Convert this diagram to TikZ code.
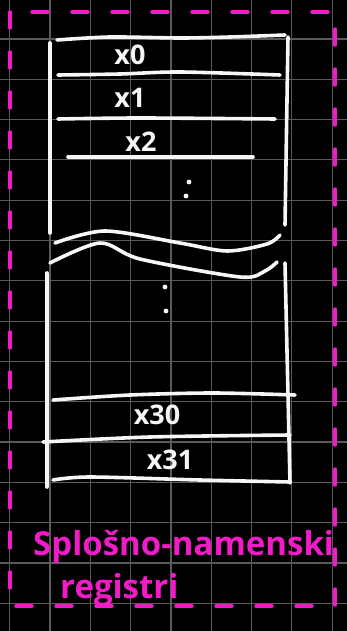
\documentclass[tikz,border=0pt]{standalone}
\usepackage{fontspec}
\setmainfont{Open Sans}
\definecolor{penPink}{HTML}{F21BC8}
\definecolor{gridGray}{HTML}{5A5A5A}
\definecolor{chalk}{HTML}{F6F6F6}
\begin{document}
\begin{tikzpicture}[x=1pt,y=-1pt,line cap=round,line join=round,
  stroke/.style={chalk,line width=3.6pt},
  reg/.style={font=\fontsize{27}{27}\selectfont\bfseries,text=chalk,inner sep=0pt},
  dotmark/.style={circle,fill=chalk,inner sep=1.7pt},
  pen/.style={font=\fontsize{33}{33}\selectfont\bfseries,text=penPink,inner sep=0pt}]
\useasboundingbox (0,0) rectangle (347,631);
\fill[black] (0,0) rectangle (347,631);
% grid paper
\foreach \k in {0,...,8} \draw[gridGray,line width=1.2pt] ({9.7+40.3*\k},0) -- ({9.7+40.3*\k},631);
\foreach \k in {0,...,14} \draw[gridGray,line width=1.2pt] (0,{39+40.3*\k}) -- (347,{39+40.3*\k});
% dashed frame
\draw[penPink,line width=3.4pt,dash pattern=on 16pt off 24pt] (10,12) rectangle (335,606);
% upper part of the register file
\draw[stroke] plot[smooth] coordinates {(57,40) (110,37) (180,38) (230,37) (285,35)};
\draw[stroke] (50,43) -- (50,233);
\draw[stroke] (288,37) -- (285,225);
\draw[stroke] plot[smooth] coordinates {(58,75) (120,74) (180,72) (280,75)};
\draw[stroke] plot[smooth] coordinates {(58,119) (140,118) (275,119)};
\draw[stroke] plot[smooth] coordinates {(68,157) (160,157) (253,157)};
\node[reg] (x0) at (130,55) {x0};
\node[reg] (x1) at (130,98) {x1};
\node[reg] (x2) at (141,142) {x2};
\node[dotmark] (dotA) at (189,182) {};
\node[dotmark] (dotB) at (186,196) {};
% break
\draw[stroke] plot[smooth] coordinates {(55,243) (105,231) (180,243) (227,251) (267,244) (280,235)};
\draw[stroke] plot[smooth] coordinates {(50,263) (100,243) (140,259) (240,277) (265,271) (277,262)};
% lower part of the register file
\draw[stroke] (47,273) -- (47,487);
\draw[stroke] (285,263) -- (290,483);
\node[dotmark] (dotC) at (165,287) {};
\node[dotmark] (dotD) at (166,311) {};
\draw[stroke] plot[smooth] coordinates {(53,400) (130,395) (213,393) (295,395)};
\draw[stroke] plot[smooth] coordinates {(43,442) (150,437) (290,435)};
\draw[stroke] plot[smooth] coordinates {(53,480) (90,477) (200,480) (290,482)};
\node[reg] (x30) at (157,415) {x30};
\node[reg] (x31) at (170,460) {x31};
% caption
\node[pen,anchor=base west] (titleA) at (33,555) {Splošno-namenski};
\node[pen,anchor=base west] (titleB) at (60,598) {registri};
\end{tikzpicture}
\end{document}
